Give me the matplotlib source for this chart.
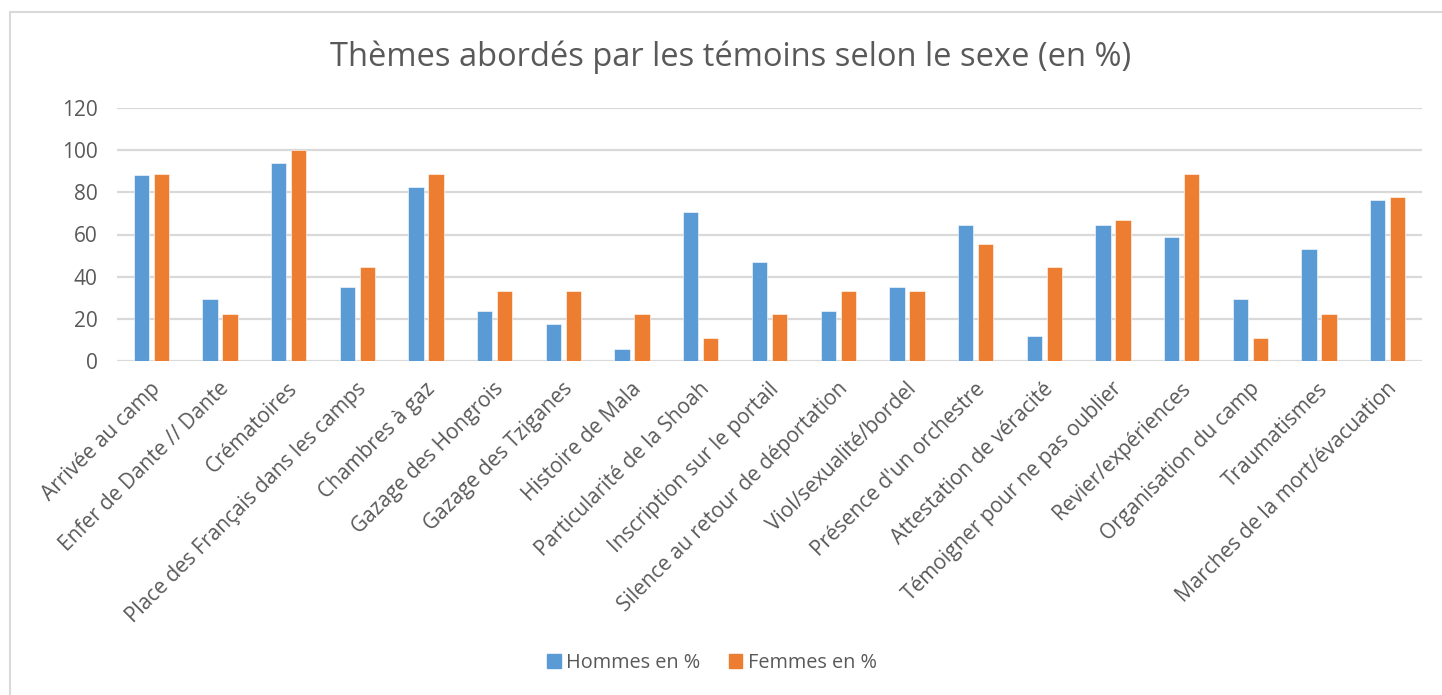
import numpy as np
import matplotlib.pyplot as plt
import matplotlib.transforms as mtransforms
from matplotlib.patches import Rectangle, Patch

categories = [
    "Arrivée au camp", "Enfer de Dante // Dante", "Crématoires",
    "Place des Français dans les camps", "Chambres à gaz", "Gazage des Hongrois",
    "Gazage des Tziganes", "Histoire de Mala", "Particularité de la Shoah",
    "Inscription sur le portail", "Silence au retour de déportation",
    "Viol/sexualité/bordel", "Présence d'un orchestre", "Attestation de véracité",
    "Témoigner pour ne pas oublier", "Revier/expériences", "Organisation du camp",
    "Traumatismes", "Marches de la mort/évacuation",
]
hommes = [88.2, 29.4, 94.1, 35.3, 82.4, 23.5, 17.6, 5.9, 70.6, 47.1,
          23.5, 35.3, 64.7, 11.8, 64.7, 58.8, 29.4, 52.9, 76.5]
femmes = [88.9, 22.2, 100.0, 44.4, 88.9, 33.3, 33.3, 22.2, 11.1, 22.2,
          33.3, 33.3, 55.6, 44.4, 66.7, 88.9, 11.1, 22.2, 77.8]

blue = "#5B9BD5"
orange = "#ED7D31"
grey_txt = "#595959"
plt.rcParams['font.family'] = ['Open Sans', 'DejaVu Sans']

fig = plt.figure(figsize=(14.42, 6.95), dpi=100)
ax = fig.add_axes([117 / 1442, 1 - 361 / 695, (1422 - 117) / 1442, (361 - 108) / 695])

# cadre du graphique
fig.patches.append(Rectangle((10 / 1442, -0.1), 1.2, 1 - 12 / 695 + 0.1,
                             transform=fig.transFigure, fill=False,
                             edgecolor="#d9d9d9", linewidth=1.5))

x = np.arange(len(categories))
w = 0.223
ax.bar(x - 0.1456, hommes, w, color=blue, edgecolor="white", linewidth=0.4, zorder=3)
ax.bar(x + 0.1456, femmes, w, color=orange, edgecolor="white", linewidth=0.4, zorder=3)

ax.set_xlim(-0.5, len(categories) - 0.5)
ax.set_ylim(0, 120)
ax.set_yticks(range(0, 121, 20))
ax.yaxis.grid(True, color="#d9d9d9", linewidth=1.6, zorder=0)
ax.set_axisbelow(True)
for s in ax.spines.values():
    s.set_visible(False)
ax.tick_params(axis="both", length=0, labelsize=15, colors=grey_txt)
ax.tick_params(axis="y", pad=14)

ax.set_xticks(x)
ax.set_xticklabels(categories, rotation=45, ha="right", va="center",
                   rotation_mode="anchor")
offset = mtransforms.ScaledTranslation(6 / 100, -20 / 100, fig.dpi_scale_trans)
for lab in ax.get_xticklabels():
    lab.set_transform(lab.get_transform() + offset)

fig.text(731 / 1442, 1 - 57 / 695, "Thèmes abordés par les témoins selon le sexe (en %)",
         ha="center", va="center", fontsize=23.5, color=grey_txt)

handles = [Patch(color=blue, label="Hommes en %"), Patch(color=orange, label="Femmes en %")]
fig.legend(handles=handles, loc="center", bbox_to_anchor=(712 / 1442, 1 - 663 / 695),
           ncol=2, frameon=False, fontsize=14.3, labelcolor=grey_txt,
           handlelength=0.7, handleheight=0.7, handletextpad=0.3, columnspacing=1.4)

fig.savefig("out.png", dpi=100)
